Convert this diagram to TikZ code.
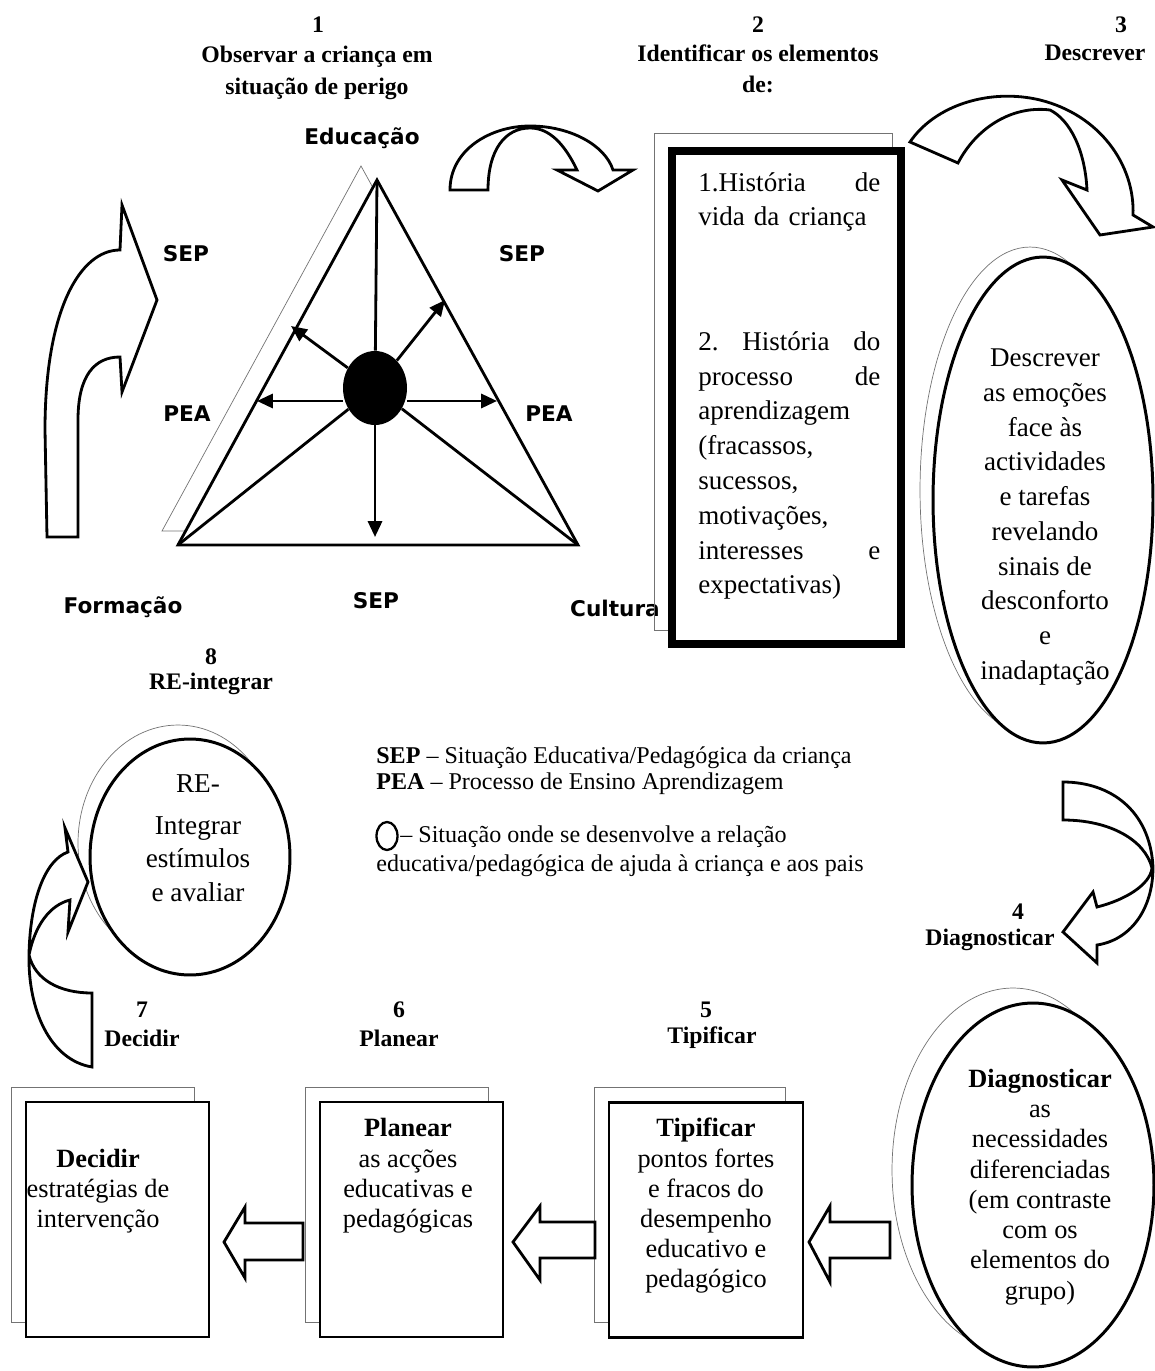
\documentclass[tikz,border=0pt]{standalone}
\usepackage{fontspec}
\setmainfont{Liberation Serif}
\newfontfamily\labelfont{DejaVu Sans}
\usetikzlibrary{arrows.meta,shapes.geometric}

\begin{document}
\begin{tikzpicture}[x=0.02cm,y=-0.02cm,line join=miter,
    >={Triangle[length=9pt,width=8pt]},
    head node/.style={font=\fontsize{13.5}{18}\selectfont\bfseries,align=center,inner sep=0pt},
    tag node/.style={font=\labelfont\bfseries\fontsize{12.3}{14}\selectfont,inner sep=0pt},
    body node/.style={font=\fontsize{15.4}{19.8}\selectfont,align=center,inner sep=0pt},
    box text/.style={font=\fontsize{15}{17.2}\selectfont,align=center,inner sep=0pt},
    legend node/.style={font=\fontsize{13.7}{16}\selectfont,anchor=west,inner sep=0pt},
    card node/.style={draw,line width=1.6pt,fill=white,minimum width=3.66cm,minimum height=4.7cm,inner sep=0pt},
    ghost line/.style={draw=black!55,line width=0.4pt},
    block arrow/.style={draw,line width=1.6pt,fill=white}]
  \useasboundingbox (0,0) rectangle (1154,1371);

  % step titles
  \node[head node] (n1) at (318,25) {1};
  \node[head node] (h1) at (317,73) {Observar a criança em\\situação de perigo};
  \node[head node] (n2) at (758,25) {2};
  \node[head node] (h2) at (758,69) {Identificar os elementos\\de:};
  \node[head node] (n3) at (1121,25) {3};
  \node[head node] (h3) at (1095,53) {Descrever};
  \node[head node] (n4) at (1018,912) {4};
  \node[head node] (h4) at (990,940) {Diagnosticar};
  \node[head node] (n5) at (706,1010) {5};
  \node[head node] (h5) at (712,1038) {Tipificar};
  \node[head node] (n6) at (399,1010) {6};
  \node[head node] (h6) at (399,1038) {Planear};
  \node[head node] (n7) at (142,1010) {7};
  \node[head node] (h7) at (142,1038) {Decidir};
  \node[head node] (n8) at (211,657) {8};
  \node[head node] (h8) at (211,684) {RE-integrar};

  % triangle
  \coordinate (Tt) at (377,180);
  \coordinate (Tl) at (178,545);
  \coordinate (Tr) at (578,545);
  \draw[ghost line] (361,166) -- (162,531) -- (562,531) -- cycle;
  \draw[line width=1.6pt,fill=white] (Tt) -- (Tl) -- (Tr) -- cycle;
  \node[ellipse,fill=black,minimum width=1.28cm,minimum height=1.48cm,inner sep=0pt] (C) at (375,388) {};
  \coordinate (eL) at (257,401);
  \coordinate (eR) at (497,401);
  \coordinate (eB) at (375,537);
  \coordinate (eUL) at (291,326);
  \coordinate (eUR) at (445,300);
  \path[draw,line width=1.6pt]
    (C) edge (Tt)
        edge (Tl)
        edge (Tr)
        edge[->] (eB)
        edge[->] (eUL)
        edge[->] (eUR)
    (C.west |- eL) edge[->] (eL)
    (C.east |- eR) edge[->] (eR);

  \node[tag node] (Edu) at (362,138) {Educação};
  \node[tag node] (For) at (123,607) {Formação};
  \node[tag node] (Cul) at (615,608) {Cultura};
  \node[tag node] (S1) at (186,254) {SEP};
  \node[tag node] (S2) at (522,254) {SEP};
  \node[tag node] (S3) at (376,601) {SEP};
  \node[tag node] (P1) at (187,414) {PEA};
  \node[tag node] (P2) at (549,414) {PEA};

  % curved arrows
  \draw[block arrow] (47,537) -- (45,430) .. controls (45,310) and (80,250) .. (120,250)
    -- (122,205) -- (157,300) -- (122,392) -- (120,357)
    .. controls (95,357) and (78,375) .. (78,420) -- (78,537) -- cycle;
  \draw[block arrow] (450,190) .. controls (450,150) and (490,126) .. (530,126)
    .. controls (570,126) and (605,145) .. (613,170) -- (633,170) -- (598,191)
    -- (557,170) -- (577,170) .. controls (565,145) and (550,128) .. (530,128)
    .. controls (505,128) and (488,150) .. (488,190) -- cycle;
  \draw[block arrow] (910,142) .. controls (935,105) and (990,88) .. (1040,100)
    .. controls (1100,115) and (1135,165) .. (1133,215) -- (1153,227) -- (1100,235)
    -- (1062,180) -- (1087,190) .. controls (1085,150) and (1070,120) .. (1050,110)
    .. controls (1010,105) and (975,130) .. (958,163) -- cycle;
  \draw[block arrow] (1063,782) .. controls (1110,782) and (1150,810) .. (1153,867)
    .. controls (1153,910) and (1130,940) .. (1097,945) -- (1097,963) -- (1063,932)
    -- (1093,892) -- (1097,907) .. controls (1125,900) and (1150,885) .. (1152,868)
    .. controls (1145,840) and (1110,820) .. (1063,820) -- cycle;

  % history box
  \draw[ghost line] (654,133) rectangle (892,630);
  \node[draw,line width=3.6pt,fill=white,minimum width=4.62cm,minimum height=9.9cm,inner sep=0pt] (H) at (786.5,397.5) {};
  \draw[line width=0.9pt] ([shift={(7,7)}]H.north west) rectangle ([shift={(-7,-7)}]H.south east);
  \node[body node,align=left,text width=3.64cm,anchor=north west] (HT) at (698,172)
    {1.História\hfill de\\vida da criança\\[51pt]2.\hfill História\hfill do\\processo\hfill de\\aprendizagem\\(fracassos,\\sucessos,\\motivações,\\interesses\hfill e\\expectativas)};

  % describe
  \node[ellipse,ghost line,minimum width=4.4cm,minimum height=9.72cm] (E3s) at (1030,490) {};
  \node[ellipse,draw,line width=1.7pt,fill=white,minimum width=4.4cm,minimum height=9.72cm] (E3) at (1043,500) {};
  \node[body node] (T3) at (1045,517)
    {Descrever\\as emoções\\face às\\actividades\\e tarefas\\revelando\\sinais de\\desconforto\\e\\inadaptação};

  % diagnose
  \draw[block arrow] (890,1222) -- (830,1222) -- (830,1206) -- (809,1242) -- (830,1282) -- (830,1258) -- (890,1258) -- cycle;
  \node[ellipse,ghost line,minimum width=4.84cm,minimum height=7.28cm] (E4s) at (1013,1170) {};
  \node[ellipse,draw,line width=1.7pt,fill=white,minimum width=4.84cm,minimum height=7.28cm] (E4) at (1033,1185) {};
  \node[box text] (T4) at (1040,1187)
    {\textbf{Diagnosticar}\\as\\necessidades\\diferenciadas\\(em contraste\\com os\\elementos do\\grupo)};

  % bottom boxes
  \node[card node,ghost line,fill=none,minimum width=3.82cm] (B5s) at (690,1204.5) {};
  \node[card node,minimum width=3.88cm] (B5) at (706,1220) {};
  \node[box text] (T5) at (706,1206)
    {\textbf{Tipificar}\\pontos fortes\\e fracos do\\desempenho\\educativo e\\pedagógico};
  \draw[block arrow] (595,1222) -- (540,1222) -- (540,1206) -- (513,1242) -- (540,1280) -- (540,1258) -- (595,1258) -- cycle;

  \node[card node,ghost line,fill=none] (B6s) at (396.5,1205) {};
  \node[card node] (B6) at (411.5,1219.5) {};
  \node[box text] (T6) at (408,1176)
    {\textbf{Planear}\\as acções\\educativas e\\pedagógicas};
  \draw[block arrow] (303,1223) -- (245,1223) -- (245,1207) -- (224,1242) -- (245,1278) -- (245,1260) -- (303,1260) -- cycle;

  \node[card node,ghost line,fill=none] (B7s) at (102.5,1205) {};
  \node[card node] (B7) at (117.5,1219.5) {};
  \node[box text] (T7) at (98,1191)
    {\textbf{Decidir}\\estratégias de\\intervenção};

  % re-integrate
  \node[ellipse,ghost line,minimum width=4cm,minimum height=4.72cm] (E8s) at (178,843) {};
  \node[ellipse,draw,line width=1.7pt,fill=white,minimum width=4cm,minimum height=4.72cm] (E8) at (190,857) {};
  \node[body node,font=\fontsize{15.5}{19}\selectfont] (T8) at (198,838)
    {RE-\\[5pt]Integrar\\estímulos\\e avaliar};
  \draw[block arrow] (92,1067) .. controls (50,1060) and (28,1010) .. (29,955)
    .. controls (30,900) and (45,860) .. (68,852) -- (65,828) -- (88,882) -- (68,932)
    -- (70,900) .. controls (50,905) and (35,925) .. (29,955)
    .. controls (35,980) and (60,993) .. (92,993) -- cycle;

  % legend
  \node[legend node] (L1) at (376,758) {\textbf{SEP} – Situação Educativa/Pedagógica da criança};
  \node[legend node] (L2) at (376,784) {\textbf{PEA} – Processo de Ensino Aprendizagem};
  \node[ellipse,draw,line width=1.3pt,minimum width=0.42cm,minimum height=0.56cm,inner sep=0pt] (Lo) at (387,836) {};
  \node[legend node] (L3) at (400,837) {– Situação onde se desenvolve a relação};
  \node[legend node] (L4) at (376,866) {educativa/pedagógica de ajuda à criança e aos pais};
\end{tikzpicture}
\end{document}
